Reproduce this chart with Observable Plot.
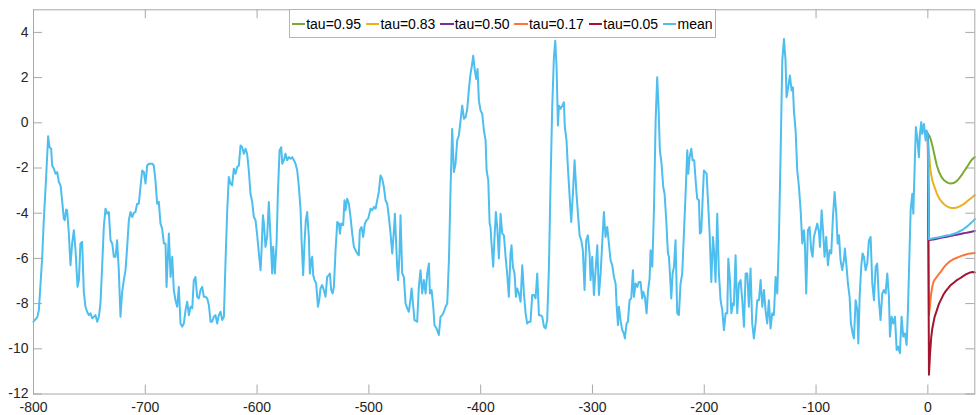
<!DOCTYPE html>
<html><head><meta charset="utf-8">
<script src="https://cdn.jsdelivr.net/npm/d3@7"></script>
<script src="https://cdn.jsdelivr.net/npm/@observablehq/plot@0.6"></script>
<style>
body{margin:0;background:#fff;}
#wrap{position:relative;width:979px;height:415px;font-family:"Liberation Sans",Arial,Helvetica,sans-serif;}
#legend{position:absolute;left:289px;top:9px;height:29px;box-sizing:border-box;border:1px solid #b4b4b4;background:#fff;display:flex;align-items:center;padding:0 2px 0 1.5px;font-size:14px;color:#000;white-space:nowrap;}
.item{display:flex;align-items:center;margin-right:4.7px}
.item:last-child{margin-right:0}
.sw{width:13.5px;height:2px;margin-right:1.2px}
</style></head><body><div id="wrap"><div id="legend"></div></div>
<script>
// observed series (time in kyr, anomaly)
const obsX = [-800,-796.7,-795.2,-793.7,-792.2,-790.8,-788.7,-786.9,-785.7,-784.2,-783.3,-781.8,-780.3,-778.8,-777.3,-775.8,-774.4,-772.9,-772.0,-770.8,-769.9,-768.4,-766.9,-765.4,-763.9,-762.4,-760.6,-759.4,-758.0,-756.5,-755.0,-753.5,-752.0,-750.5,-749.0,-747.5,-746.0,-744.5,-743.0,-741.5,-740.1,-738.6,-737.1,-735.6,-734.1,-732.6,-731.1,-729.6,-728.1,-726.6,-725.2,-723.7,-722.2,-720.7,-719.2,-717.7,-716.2,-714.7,-713.2,-711.7,-710.3,-708.8,-707.3,-705.8,-704.3,-702.8,-701.3,-699.8,-698.3,-696.8,-693.8,-692.4,-690.9,-689.4,-687.9,-686.4,-684.9,-683.4,-681.9,-681.0,-678.9,-677.4,-675.9,-674.5,-673.0,-671.5,-670.0,-668.5,-667.0,-665.5,-664.0,-662.5,-661.0,-659.5,-658.0,-656.6,-655.1,-653.6,-652.1,-650.6,-649.1,-647.6,-646.1,-644.6,-643.1,-641.6,-640.2,-638.7,-637.2,-635.7,-634.2,-632.7,-631.2,-629.7,
-628.2,-626.7,-625.3,-623.8,-622.3,-620.8,-619.3,-617.8,-616.3,-614.8,-613.3,-611.8,-610.3,-608.9,-607.4,-605.9,-604.4,-602.9,-601.4,-599.9,-598.4,-596.9,-596.0,-594.8,-593.9,-592.5,-591.0,-589.5,-588.0,-586.5,-585.6,-584.1,-582.6,-581.4,-579.9,-578.4,-577.5,-576.0,-574.6,-573.1,-571.6,-570.1,-568.6,-567.1,-565.6,-564.1,-562.6,-561.1,-560.2,-558.8,-557.6,-556.4,-555.2,-553.7,-552.8,-551.6,-550.7,-549.8,-548.6,-547.1,-545.6,-544.4,-543.3,-541.8,-540.3,-538.8,-537.3,-535.8,-534.9,-533.7,-532.5,-531.3,-529.8,-528.3,-526.8,-525.9,-524.8,-523.0,-521.8,-520.9,-519.4,-517.9,-516.4,-514.9,-513.4,-511.9,-510.4,-509.0,-508.1,-506.6,-505.1,-503.6,-502.1,-500.6,-498.5,-497.0,-495.5,-494.0,-492.6,-491.1,-489.6,-488.1,-486.6,-485.1,-483.6,-482.1,-480.6,-479.1,-477.6,-476.7,-475.6,-474.7,-473.8,-472.6,-471.7,-470.2,-468.7,-467.2,-465.7,-464.2,-462.7,-461.8,-460.3,-459.2,
-456.8,-455.3,-453.8,-452.3,-450.8,-449.3,-447.8,-446.3,-445.4,-443.9,-442.4,-441.3,-439.5,-437.4,-435.9,-434.4,-432.9,-431.4,-429.9,-428.4,-426.9,-425.5,-424.0,-422.5,-421.0,-419.5,-418.0,-416.5,-415.0,-413.5,-412.0,-410.5,-409.1,-407.6,-406.7,-405.2,-404.0,-402.8,-401.6,-400.1,-398.6,-397.1,-395.6,-394.7,-393.2,-392.0,-391.2,-390.3,-388.8,-387.6,-386.4,-385.2,-383.7,-382.2,-380.7,-379.2,-377.7,-376.3,-374.8,-373.3,-372.4,-371.2,-369.7,-368.5,-367.3,-365.8,-364.3,-362.8,-361.3,-359.8,-358.4,-356.9,-355.4,-353.9,-352.4,-350.9,-349.4,-347.9,-346.4,-344.9,-343.4,-342.0,-340.5,-339.0,-337.5,-336.0,-334.5,-333.3,-332.1,-330.9,-330.0,-328.5,-327.0,-325.6,-324.7,-323.2,-322.0,-320.2,-319.0,-317.5,-316.0,-314.5,-313.0,-311.5,-310.0,-308.6,-307.1,-305.6,-304.1,-302.6,-301.7,-300.2,-298.7,-297.2,-295.7,-294.2,-292.7,-291.3,-289.8,
-288.3,-286.8,-285.3,-283.8,-282.3,-280.8,-279.3,-278.4,-277.2,-276.3,-274.9,-273.4,-271.9,-271.0,-269.5,-268.3,-266.8,-265.3,-263.8,-262.9,-261.4,-259.9,-258.5,-257.0,-255.5,-254.6,-253.1,-251.6,-250.4,-248.9,-248.0,-246.5,-245.0,-243.5,-242.1,-240.9,-239.7,-238.2,-236.7,-235.5,-234.0,-232.5,-231.6,-230.7,-229.5,-228.3,-227.1,-225.7,-224.2,-222.7,-221.2,-219.7,-218.2,-216.7,-215.2,-214.3,-213.1,-211.6,-210.4,-209.0,-207.5,-206.3,-204.8,-203.9,-202.7,-201.5,-200.3,-199.1,-197.9,-196.7,-195.2,-193.7,-192.2,-191.1,-189.9,-188.4,-186.9,-185.4,-183.9,-182.4,-180.9,-179.4,-178.5,-177.0,-175.8,-174.4,-173.5,-172.0,-170.5,-169.0,-167.5,-166.0,-164.5,-163.0,-161.5,-160.1,-158.6,-157.1,-155.6,-154.1,-152.6,-151.1,-149.6,-148.1,-146.6,-145.2,-143.7,-142.2,-140.7,-139.2,-137.7,-136.2,-134.7,-133.2,-131.7,-130.2,-128.7,-127.3,-126.4,-124.9,-123.4,-121.9,-120.7,-119.8,
-118.3,-116.8,-115.3,-113.8,-112.3,-110.9,-110.0,-108.8,-107.3,-105.8,-104.3,-103.1,-101.9,-100.4,-98.9,-97.4,-96.5,-95.0,-93.6,-92.4,-90.9,-89.4,-87.9,-86.4,-84.9,-83.4,-81.9,-80.7,-79.5,-78.1,-76.6,-75.1,-74.2,-72.7,-71.5,-70.0,-68.8,-67.3,-66.1,-64.6,-63.1,-62.2,-61.0,-59.6,-58.4,-57.2,-55.7,-54.2,-52.7,-51.2,-49.7,-48.2,-46.7,-45.3,-43.8,-42.3,-40.8,-39.3,-37.8,-36.3,-34.8,-33.9,-32.4,-30.9,-29.4,-27.9,-26.5,-25.0,-23.5,-22.0,-20.5,-19.0,-17.8,-16.6,-15.4,-13.9,-13.0,-11.8,-10.7,-9.5,-8.0,-7.1,-5.9,-5.0,-3.5,-2.0,-1.1,0];
const obsY = [-8.80,-8.61,-8.29,-7.11,-5.93,-4.31,-2.40,-0.59,-1.08,-1.15,-1.89,-2.03,-2.25,-2.18,-2.62,-2.77,-3.43,-4.24,-4.31,-3.84,-3.87,-4.90,-6.30,-5.34,-4.75,-5.64,-7.26,-6.96,-5.34,-5.27,-7.48,-8.14,-8.36,-8.51,-8.43,-8.65,-8.58,-8.51,-8.80,-8.58,-7.99,-6.37,-4.61,-3.80,-4.02,-3.95,-5.20,-5.34,-5.93,-5.93,-5.20,-6.52,-8.58,-7.48,-6.96,-6.52,-5.49,-4.31,-3.95,-4.17,-3.99,-3.95,-3.58,-3.58,-2.84,-2.11,-2.18,-2.69,-1.89,-1.81,-1.81,-1.89,-2.55,-3.58,-3.50,-4.46,-4.68,-5.34,-5.34,-7.26,-4.90,-6.82,-5.93,-7.40,-7.85,-8.14,-7.26,-8.88,-9.02,-8.88,-8.29,-7.92,-8.51,-8.14,-8.21,-6.96,-6.82,-7.70,-7.77,-7.40,-7.26,-7.70,-7.70,-7.77,-8.07,-8.80,-8.80,-8.58,-8.51,-8.88,-8.51,-8.36,-8.73,-8.58,
-6.08,-3.87,-2.40,-2.69,-2.77,-2.03,-2.25,-1.96,-1.89,-1.00,-1.08,-1.37,-1.15,-1.37,-2.11,-3.14,-3.50,-4.17,-4.31,-4.98,-5.78,-6.52,-5.64,-4.09,-4.46,-5.49,-5.05,-3.50,-5.05,-6.67,-5.49,-6.67,-5.34,-3.14,-1.22,-1.08,-1.81,-1.66,-1.37,-1.66,-1.52,-1.59,-1.52,-1.66,-1.81,-2.11,-2.84,-3.87,-5.20,-6.74,-5.34,-4.31,-3.95,-5.05,-6.67,-6.08,-5.93,-6.74,-6.96,-7.11,-8.14,-7.85,-7.33,-7.18,-7.40,-7.70,-6.82,-6.74,-6.67,-7.40,-7.55,-7.26,-5.64,-4.39,-4.46,-4.90,-4.46,-4.53,-3.43,-3.87,-3.36,-3.58,-4.17,-4.90,-5.49,-5.64,-5.78,-5.86,-4.75,-4.61,-5.05,-4.46,-4.31,-4.24,-3.80,-3.87,-3.72,-3.80,-3.43,-3.06,-2.33,-2.47,-2.84,-3.43,-3.58,-4.17,-4.90,-5.78,-4.75,-4.02,-5.34,-6.37,-6.96,-5.78,-4.09,-6.67,-6.82,-7.99,-8.21,-8.36,-7.77,-7.33,-8.14,-8.73,
-8.80,-7.26,-6.52,-7.55,-6.96,-7.55,-6.67,-6.23,-7.55,-7.40,-8.14,-8.95,-9.10,-9.39,-8.58,-8.51,-8.36,-8.14,-7.99,-6.08,-2.84,-0.27,-2.18,-1.81,-0.78,-0.56,0.10,0.76,0.18,0.25,0.62,1.50,2.16,2.60,2.97,2.31,1.94,2.38,0.98,0.54,0.40,-0.34,-0.78,-2.11,-2.55,-4.46,-4.61,-5.34,-6.37,-5.05,-3.95,-4.61,-6.00,-4.02,-4.90,-4.98,-5.93,-6.67,-7.70,-5.78,-5.42,-6.37,-6.67,-7.70,-7.33,-7.55,-7.92,-6.30,-7.55,-8.43,-8.88,-8.80,-8.80,-7.62,-7.62,-7.77,-6.67,-8.51,-8.51,-8.58,-9.02,-9.10,-8.73,-6.52,-2.69,0.69,2.90,3.63,2.46,-0.12,0.76,0.62,0.76,0.91,-0.19,-0.78,-1.96,-3.43,-4.39,-3.14,-1.66,-2.99,-4.02,-4.98,-5.20,-5.64,-7.40,-5.20,-4.98,-5.78,-6.96,-5.93,-7.62,-6.52,-5.42,-7.62,-6.67,-5.34,-3.95,
-5.05,-4.61,-5.34,-6.08,-6.30,-6.82,-7.11,-8.07,-8.95,-8.14,-8.73,-9.17,-9.32,-9.54,-8.88,-8.80,-7.85,-7.77,-6.52,-7.70,-7.11,-7.26,-7.04,-7.04,-7.77,-7.48,-7.70,-8.43,-7.48,-6.89,-5.64,-6.37,-3.87,0.10,2.02,0.69,-1.22,-1.81,-2.84,-3.14,-4.31,-5.78,-5.93,-6.67,-7.77,-6.67,-6.37,-5.20,-8.43,-8.51,-7.11,-6.67,-4.90,-3.14,-1.22,-2.25,-1.52,-1.15,-1.66,-1.66,-2.69,-3.36,-3.43,-4.90,-4.83,-3.43,-2.11,-2.18,-2.25,-3.43,-4.90,-7.04,-5.05,-5.78,-7.04,-4.02,-6.67,-7.85,-8.29,-9.17,-8.43,-8.43,-6.01,-6.96,-8.43,-7.99,-8.07,-5.86,-8.43,-7.11,-6.96,-7.85,-9.02,-6.67,-6.67,-8.14,-6.45,-8.88,-9.54,-8.88,-7.85,-7.85,-6.96,-8.14,-7.40,-8.29,-8.88,-7.85,-9.10,-8.43,-8.51,-6.82,-7.55,-5.05,-1.37,2.75,3.71,2.75,1.13,1.57,2.09,1.43,1.57,0.54,
-0.34,-2.11,-2.84,-3.87,-5.34,-4.75,-5.34,-7.55,-4.75,-4.61,-5.64,-5.93,-5.05,-4.75,-4.46,-4.83,-5.49,-3.87,-4.90,-5.93,-5.05,-6.30,-5.64,-5.78,-4.17,-3.06,-4.02,-5.34,-4.98,-6.08,-6.52,-6.08,-5.56,-6.37,-7.11,-7.70,-8.88,-9.32,-9.54,-7.85,-8.29,-9.76,-7.70,-6.37,-5.78,-5.93,-6.52,-6.23,-5.20,-5.05,-7.11,-7.85,-6.37,-6.23,-7.85,-8.73,-7.55,-7.40,-7.55,-6.67,-7.70,-9.46,-8.58,-8.88,-8.58,-10.05,-9.91,-10.20,-8.58,-9.46,-9.32,-9.83,-8.29,-6.08,-3.87,-3.14,-4.02,-1.96,-0.19,-0.63,-1.52,-0.49,0.03,-0.49,-0.05,-0.78,-0.34,-0.49];

// forecast horizon and forecasts per quantile
const fcX   = [0,1,2,3,4,5,6,8,10,12,14,16,18,20,22,24,26,28,30,32,34,36,38,40,42];
const q95   = [-0.5,-0.55,-0.65,-0.8,-1.0,-1.22,-1.45,-1.88,-2.18,-2.38,-2.52,-2.6,-2.66,-2.69,-2.68,-2.64,-2.57,-2.46,-2.33,-2.18,-2.03,-1.88,-1.72,-1.6,-1.52];
const q83   = [-0.5,-1.3,-1.95,-2.3,-2.55,-2.7,-2.85,-3.12,-3.33,-3.47,-3.58,-3.66,-3.72,-3.76,-3.77,-3.77,-3.75,-3.71,-3.66,-3.6,-3.52,-3.44,-3.36,-3.28,-3.2];
const q50   = [-0.5,-5.2,-5.19,-5.18,-5.17,-5.16,-5.15,-5.13,-5.11,-5.09,-5.07,-5.05,-5.03,-5.01,-4.99,-4.97,-4.95,-4.93,-4.91,-4.89,-4.87,-4.85,-4.83,-4.81,-4.79];
const q17   = [-0.5,-8.5,-8.05,-7.55,-7.25,-7.05,-6.95,-6.82,-6.68,-6.56,-6.42,-6.3,-6.2,-6.12,-6.06,-6.01,-5.97,-5.93,-5.89,-5.86,-5.83,-5.8,-5.78,-5.77,-5.76];
const q05   = [-0.5,-11.15,-10.2,-9.5,-9.1,-8.85,-8.6,-8.3,-8.0,-7.8,-7.6,-7.45,-7.33,-7.2,-7.12,-7.04,-6.96,-6.9,-6.84,-6.77,-6.71,-6.66,-6.62,-6.6,-6.62];
const meanF = [-0.5,-5.15,-5.14,-5.13,-5.12,-5.11,-5.1,-5.08,-5.06,-5.04,-5.02,-5.0,-4.98,-4.96,-4.93,-4.9,-4.86,-4.81,-4.76,-4.7,-4.63,-4.55,-4.46,-4.37,-4.26];

const seriesNames  = ["tau=0.95","tau=0.83","tau=0.50","tau=0.17","tau=0.05","mean"];
const seriesColors = ["#77AC30","#EDB120","#7E2F8E","#FF7533","#A2142F","#4DBEEE"];
const xTicks = [-800,-700,-600,-500,-400,-300,-200,-100,0];
const yTicks = [-12,-10,-8,-6,-4,-2,0,2,4];

const rows = [];
[q95,q83,q50,q17,q05].forEach((arr,i)=>arr.forEach((v,j)=>rows.push({x:fcX[j],y:v,s:seriesNames[i]})));
obsX.forEach((x,j)=>rows.push({x, y:obsY[j], s:"mean"}));
meanF.forEach((v,j)=>{ if (j>0) rows.push({x:fcX[j], y:v, s:"mean"}); });

const W=979, H=415, mL=33, mR=4.7, mT=9.3, mB=21.5;
const fw=W-mL-mR, fh=H-mT-mB, tl=9;
const axisCol="#a8a8a8";

const chart = Plot.plot({
  width: W, height: H,
  marginLeft: mL, marginRight: mR, marginTop: mT, marginBottom: mB,
  x: {domain: [-800, 42], label: null},
  y: {domain: [-12, 5], label: null},
  color: {domain: seriesNames, range: seriesColors},
  style: {fontFamily: "'Liberation Sans', Arial, Helvetica, sans-serif", fontSize: "14px", background: "white", color: "#262626"},
  marks: [
    Plot.ruleX(xTicks, {x: d=>d, stroke: axisCol, insetTop: fh-tl}),
    Plot.ruleX(xTicks, {x: d=>d, stroke: axisCol, insetBottom: fh-tl}),
    Plot.ruleY(yTicks, {y: d=>d, stroke: axisCol, insetRight: fw-tl}),
    Plot.ruleY(yTicks, {y: d=>d, stroke: axisCol, insetLeft: fw-tl}),
    Plot.line(rows, {x: "x", y: "y", z: "s", stroke: "s", strokeWidth: 2}),
    Plot.frame({stroke: axisCol}),
    Plot.axisX({ticks: xTicks, tickSize: 0, tickPadding: 8, tickFormat: d=>String(d), fill: "#262626", fontSize: 14, label: null}),
    Plot.axisY({ticks: yTicks, tickSize: 0, tickPadding: 5, tickFormat: d=>String(d), fill: "#262626", fontSize: 14, label: null})
  ]
});
const wrap = document.getElementById("wrap");
wrap.insertBefore(chart, wrap.firstChild);
chart.style.position="absolute"; chart.style.left="0"; chart.style.top="0";

const leg = document.getElementById("legend");
seriesNames.forEach((n,i)=>{
  const it=document.createElement("div"); it.className="item";
  const sw=document.createElement("div"); sw.className="sw"; sw.style.background=seriesColors[i];
  const t=document.createElement("span"); t.textContent=n;
  it.appendChild(sw); it.appendChild(t); leg.appendChild(it);
});
</script>
</body></html>
